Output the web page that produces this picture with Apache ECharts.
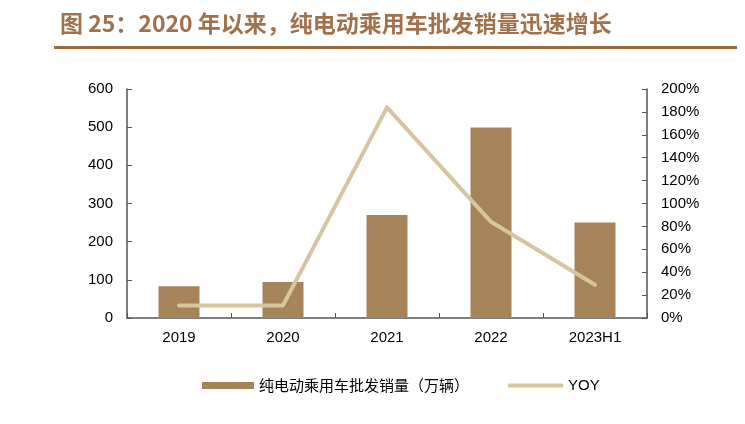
<!DOCTYPE html>
<html>
<head>
<meta charset="utf-8">
<script src="https://cdn.jsdelivr.net/npm/echarts@6/dist/echarts.min.js"></script>
<style>
html,body{margin:0;padding:0;background:#fff;}
#c{width:745px;height:424px;}
</style>
</head>
<body>
<div id="c"></div>
<script>
const categories = ['2019', '2020', '2021', '2022', '2023H1'];
const salesValues = [83, 94, 270, 499, 250];
const yoyValues = [0.11, 0.11, 1.84, 0.84, 0.29];
const salesName = '纯电动乘用车批发销量（万辆）';
const yoyName = 'YOY';
const titleText = '图 25：2020 年以来，纯电动乘用车批发销量迅速增长';

const chart = echarts.init(document.getElementById('c'));
const axisColor = '#555555';
const labelFont = {color: '#000', fontSize: 15, fontFamily: 'Liberation Sans, Arial, sans-serif'};

chart.setOption({
  animation: false,
  backgroundColor: '#fff',
  title: {
    text: titleText,
    left: 55,
    top: 7,
    textStyle: {
      color: '#A0714A',
      fontSize: 23,
      fontWeight: 'bold',
      fontFamily: '"Noto Sans CJK SC", sans-serif'
    }
  },
  graphic: [{
    type: 'rect',
    shape: {x: 54, y: 46, width: 683, height: 3},
    style: {fill: '#9A6A3C'},
    silent: true
  }],
  grid: {left: 127, right: 98, top: 89, bottom: 106, containLabel: false},
  legend: [{
    data: [salesName],
    left: 197,
    top: 373,
    icon: 'rect',
    itemWidth: 52,
    itemHeight: 7,
    itemGap: 6,
    textStyle: {color: '#000', fontSize: 15, fontFamily: '"Noto Sans CJK SC", sans-serif'}
  }, {
    data: [yoyName],
    left: 503,
    top: 373,
    icon: 'roundRect',
    itemWidth: 55,
    itemHeight: 4,
    textStyle: {color: '#000', fontSize: 15, fontFamily: 'Liberation Sans, Arial, sans-serif'}
  }],
  xAxis: {
    type: 'category',
    data: categories,
    axisLine: {show: true, lineStyle: {color: axisColor, width: 1.5}},
    axisTick: {show: true, inside: true, length: 5, interval: 0, alignWithLabel: false, lineStyle: {color: axisColor}},
    axisLabel: Object.assign({margin: 12, interval: 0}, labelFont),
    splitLine: {show: false}
  },
  yAxis: [{
    type: 'value',
    min: 0,
    max: 600,
    interval: 100,
    axisLine: {show: true, lineStyle: {color: axisColor, width: 1.5}},
    axisTick: {show: true, inside: true, length: 5, lineStyle: {color: axisColor}},
    axisLabel: Object.assign({margin: 14}, labelFont),
    splitLine: {show: false}
  }, {
    type: 'value',
    min: 0,
    max: 2,
    interval: 0.2,
    position: 'right',
    axisLine: {show: true, lineStyle: {color: axisColor, width: 1.5}},
    axisTick: {show: true, inside: true, length: 5, lineStyle: {color: axisColor}},
    axisLabel: Object.assign({margin: 14, formatter: v => Math.round(v * 100) + '%'}, labelFont),
    splitLine: {show: false}
  }],
  series: [{
    name: salesName,
    type: 'bar',
    data: salesValues,
    barWidth: 41,
    itemStyle: {color: '#A68459'}
  }, {
    name: yoyName,
    type: 'line',
    yAxisIndex: 1,
    data: yoyValues,
    symbol: 'none',
    lineStyle: {color: '#D6C59E', width: 4, cap: 'round', join: 'round'},
    itemStyle: {color: '#D6C59E'}
  }]
});
</script>
</body>
</html>
